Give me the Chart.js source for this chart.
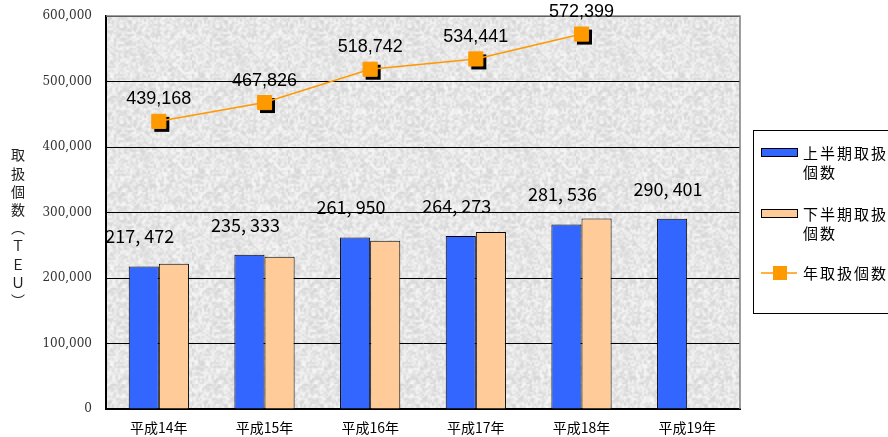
<!DOCTYPE html>
<html>
<head>
<meta charset="utf-8">
<script src="https://cdn.jsdelivr.net/npm/chart.js@4.4.1/dist/chart.umd.min.js"></script>
<style>
  body { margin: 0; background: #fff; }
  #wrap { width: 888px; height: 437px; position: relative; }
</style>
</head>
<body>
<div id="wrap"><canvas id="chart"></canvas></div>
<script>
const years = ['平成14年', '平成15年', '平成16年', '平成17年', '平成18年', '平成19年'];
const firstHalf = [217472, 235333, 261950, 264273, 281536, 290401];
const secondHalf = [221696, 232493, 256792, 270168, 290863, null];
const annual = [439168, 467826, 518742, 534441, 572399, null];
const seriesNames = ['上半期取扱個数', '下半期取扱個数', '年取扱個数'];
const axisTitle = ['取', '扱', '個', '数', '︵', 'Ｔ', 'Ｅ', 'Ｕ', '︶'];

const BLUE = '#3366FF';
const PEACH = '#FFCC99';
const ORANGE = '#FF9900';

// granite-ish plot background, deterministic hash noise
function makeTexture(ctx) {
  const n = 48;
  const small = document.createElement('canvas');
  small.width = small.height = n;
  const g = small.getContext('2d');
  const img = g.createImageData(n, n);
  for (let i = 0; i < n * n; i++) {
    let h = Math.imul(i ^ 0x9e3779b9, 0x85ebca6b);
    h ^= h >>> 13;
    h = Math.imul(h, 0xc2b2ae35);
    h ^= h >>> 16;
    const v = 212 + ((h >>> 0) % 38);
    img.data[i * 4] = v;
    img.data[i * 4 + 1] = v;
    img.data[i * 4 + 2] = v;
    img.data[i * 4 + 3] = 255;
  }
  g.putImageData(img, 0, 0);
  const big = document.createElement('canvas');
  big.width = big.height = n * 2;
  const bg = big.getContext('2d');
  bg.imageSmoothingEnabled = true;
  bg.drawImage(small, 0, 0, n * 2, n * 2);
  return ctx.createPattern(big, 'repeat');
}

const plotDecor = {
  id: 'plotDecor',
  beforeDraw(chart) {
    const { ctx, chartArea: a } = chart;
    ctx.save();
    ctx.fillStyle = makeTexture(ctx);
    ctx.fillRect(a.left, a.top, a.right - a.left, a.bottom - a.top);
    ctx.restore();
  },
  afterDatasetsDraw(chart) {
    const { ctx, chartArea: a } = chart;
    ctx.save();
    // top and right border
    ctx.strokeStyle = '#808080';
    ctx.lineWidth = 1.5;
    ctx.beginPath();
    ctx.moveTo(a.left, a.top);
    ctx.lineTo(a.right, a.top);
    ctx.lineTo(a.right, a.bottom);
    ctx.stroke();

    // value labels above the first-half bars
    ctx.fillStyle = '#000';
    ctx.textAlign = 'center';
    ctx.textBaseline = 'middle';
    ctx.font = '18px "Noto Sans CJK JP"';
    chart.getDatasetMeta(0).data.forEach((bar, i) => {
      const v = firstHalf[i];
      if (v == null) return;
      const txt = v.toLocaleString('en-US').replace(',', ', ');
      ctx.fillText(txt, bar.x - 4, bar.y - 30);
    });

    // value labels above the annual points
    ctx.font = '18px "Liberation Sans"';
    chart.getDatasetMeta(2).data.forEach((pt, i) => {
      const v = annual[i];
      if (v == null) return;
      ctx.fillText(v.toLocaleString('en-US'), pt.x, pt.y - 22);
    });

    // vertical axis title
    ctx.font = '14px "Noto Sans CJK JP"';
    ctx.fillStyle = '#222';
    axisTitle.forEach((ch, i) => {
      ctx.fillText(ch, 18, 155 + i * 18.2);
    });
    ctx.restore();
  },
  beforeDatasetDraw(chart, args) {
    if (args.index !== 2) return;
    // black drop shadow behind square markers
    const { ctx } = chart;
    ctx.save();
    ctx.fillStyle = '#000';
    args.meta.data.forEach((pt, i) => {
      if (annual[i] == null) return;
      ctx.fillRect(pt.x - 7.5 + 3, pt.y - 7.5 + 3, 15, 15);
    });
    ctx.restore();
  },
  afterDraw(chart) {
    const { ctx } = chart;
    const x0 = 753, y0 = 130;
    ctx.save();
    ctx.strokeStyle = '#000';
    ctx.lineWidth = 1;
    ctx.strokeRect(x0 + 0.5, y0 + 0.5, 160, 183);

    ctx.font = '15px "Noto Sans CJK JP"';
    ctx.letterSpacing = '2px';
    ctx.fillStyle = '#000';
    ctx.textAlign = 'left';
    ctx.textBaseline = 'middle';

    // bar swatches
    [[BLUE, 148, seriesNames[0]], [PEACH, 209, seriesNames[1]]].forEach(([c, y, name]) => {
      ctx.fillStyle = c;
      ctx.fillRect(761, y, 36, 8);
      ctx.strokeStyle = '#000';
      ctx.strokeRect(761.5, y + 0.5, 36, 8);
      ctx.fillStyle = '#000';
      ctx.fillText(name.slice(0, 5), 803, y + 5);
      ctx.fillText(name.slice(5), 803, y + 24);
    });

    // line swatch
    ctx.strokeStyle = ORANGE;
    ctx.lineWidth = 1.5;
    ctx.beginPath();
    ctx.moveTo(761, 273);
    ctx.lineTo(797, 273);
    ctx.stroke();
    ctx.fillStyle = ORANGE;
    ctx.fillRect(773, 266, 14, 14);
    ctx.fillStyle = '#000';
    ctx.fillText(seriesNames[2], 803, 273);
    ctx.restore();
  }
};

const ctx = document.getElementById('chart').getContext('2d');

new Chart(ctx, {
  type: 'bar',
  data: {
    labels: years,
    datasets: [
      {
        label: seriesNames[0],
        data: firstHalf,
        backgroundColor: BLUE,
        borderColor: '#000',
        borderWidth: 1,
        order: 1,
      },
      {
        label: seriesNames[1],
        data: secondHalf,
        backgroundColor: PEACH,
        borderColor: '#000',
        borderWidth: 1,
        order: 1,
      },
      {
        type: 'line',
        label: seriesNames[2],
        data: annual,
        borderColor: ORANGE,
        borderWidth: 1.5,
        backgroundColor: ORANGE,
        pointStyle: 'rect',
        pointRadius: 10,
        pointBorderWidth: 1,
        pointBorderColor: ORANGE,
        pointBackgroundColor: ORANGE,
        spanGaps: false,
        order: 0,
      },
    ],
  },
  options: {
    responsive: true,
    maintainAspectRatio: false,
    animation: false,
    layout: {
      padding: { left: 0, right: 148, top: 16, bottom: 0 },
    },
    datasets: {
      bar: {
        categoryPercentage: 0.57,
        barPercentage: 1.0,
      },
    },
    plugins: {
      legend: { display: false },
      tooltip: { enabled: false },
    },
    scales: {
      x: {
        afterFit: (scale) => {
          scale.height = 28;
          scale.paddingLeft = 0;
          scale.paddingRight = 0;
        },
        grid: { display: false, drawTicks: false },
        border: { color: '#000', width: 2 },
        ticks: {
          padding: 10,
          color: '#000',
          font: { family: '"Noto Sans CJK JP"', size: 14 },
        },
      },
      y: {
        min: 0,
        max: 600000,
        afterFit: (scale) => {
          scale.width = 106;
          scale.paddingTop = 0;
          scale.paddingBottom = 0;
        },
        grid: { color: '#000', lineWidth: 1, drawTicks: false },
        border: { color: '#000', width: 2 },
        ticks: {
          stepSize: 100000,
          padding: 14,
          color: '#333',
          font: { family: '"DejaVu Serif"', size: 12 },
          callback: (v) => v.toLocaleString('en-US'),
        },
      },
    },
  },
  plugins: [plotDecor],
});
</script>
</body>
</html>
